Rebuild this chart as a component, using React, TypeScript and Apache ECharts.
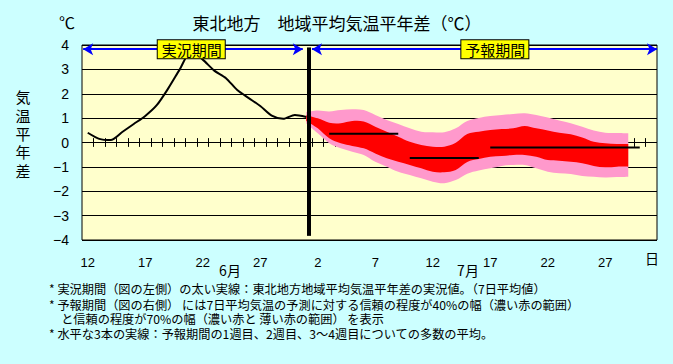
import React, { useEffect, useRef } from 'react';
import * as echarts from 'echarts';

// x positions are day indices: 0 = Jun 12 ... 49 = Jul 31
const xLabelIndex = [0, 5, 10, 15, 20, 25, 30, 35, 40, 45];
const xLabelText = ['12', '17', '22', '27', '2', '7', '12', '17', '22', '27'];

// observed 7-day mean anomaly (Jun 12 .. Jul 1)
const obsIndex = [0, 1, 2, 3, 4, 5, 6, 7, 8, 9, 10, 11, 12, 13, 14, 15, 16, 17, 18, 19];
const obsValue = [0.40, 0.15, 0.10, 0.43, 0.76, 1.09, 1.53, 2.22, 3.0, 3.75, 3.4, 2.95, 2.65, 2.15, 1.82, 1.5, 1.1, 0.97, 1.13, 1.05];

// forecast bands (Jul 1 .. Jul 28)
const fcIndex = [19, 20, 21, 22, 23, 24, 25, 26, 27, 28, 29, 30, 31, 32, 33, 34, 35, 36, 37, 38, 39, 40, 41, 42, 43, 44, 45, 46, 47];
const pinkTop = [1.25, 1.31, 1.27, 1.33, 1.36, 1.33, 1.13, 0.92, 0.76, 0.58, 0.44, 0.42, 0.42, 0.58, 0.88, 1.01, 1.09, 1.13, 1.17, 1.20, 1.13, 1.03, 0.90, 0.79, 0.65, 0.49, 0.40, 0.39, 0.38];
const redTop = [1.12, 0.99, 0.81, 0.79, 0.88, 0.86, 0.65, 0.44, 0.24, 0.03, -0.10, -0.17, -0.17, -0.01, 0.35, 0.44, 0.51, 0.55, 0.58, 0.68, 0.58, 0.49, 0.40, 0.34, 0.21, 0.03, -0.03, -0.06, -0.06];
const redBottom = [0.88, 0.58, 0.17, -0.03, -0.14, -0.24, -0.45, -0.65, -0.79, -0.92, -1.06, -1.20, -1.22, -1.13, -0.80, -0.68, -0.58, -0.55, -0.51, -0.51, -0.58, -0.72, -0.75, -0.79, -0.85, -0.96, -1.02, -0.99, -0.99];
const pinkBottom = [0.78, 0.38, -0.03, -0.24, -0.38, -0.51, -0.79, -0.99, -1.20, -1.33, -1.47, -1.61, -1.67, -1.54, -1.28, -1.15, -1.06, -0.96, -0.92, -0.92, -1.06, -1.20, -1.26, -1.29, -1.37, -1.40, -1.44, -1.42, -1.40];

// weekly means (week 1, week 2, weeks 3-4)
const meanStart = [21, 28, 35];
const meanEnd = [27, 34, 48];
const meanValue = [0.36, -0.64, -0.21];

// small day ticks on the zero line (between days)
const zeroTickPos = Array.from({ length: 49 }, (_, i) => i + 0.5);

// period annotations
const periodY = 3.83;
const obsPeriod = [-0.4, 18.7];
const fcPeriod = [19.5, 49.5];
const periodLabelX = [9.0, 35.4];
const periodLabelText = ['実況期間', '予報期間'];
const divider = { x: 19.2, top: 3.9, bottom: -3.83 };

const footnotes = [
  '* 実況期間（図の左側）の太い実線：東北地方地域平均気温平年差の実況値。（7日平均値）',
  '* 予報期間（図の右側） には7日平均気温の予測に対する信頼の程度が40%の幅（濃い赤の範囲）',
  '　と信頼の程度が70%の幅（濃い赤と 薄い赤の範囲） を表示',
  '* 水平な3本の実線：予報期間の1週目、2週目、3〜4週目についての多数の平均。',
];
const footnoteY = [289, 304.5, 318.5, 334];

const JP = "'Noto Sans CJK JP', sans-serif";
const NUM = "'Liberation Sans', 'Noto Sans CJK JP', sans-serif";

// Catmull-Rom curve through pixel points -> SVG path commands (rendering only)
function curvePath(pts: number[][], moveFirst: boolean): string {
  let d = (moveFirst ? 'M' : 'L') + pts[0][0].toFixed(2) + ' ' + pts[0][1].toFixed(2);
  const n = pts.length;
  for (let i = 0; i < n - 1; i++) {
    const p0 = pts[Math.max(0, i - 1)];
    const p1 = pts[i];
    const p2 = pts[i + 1];
    const p3 = pts[Math.min(n - 1, i + 2)];
    const c1x = p1[0] + (p2[0] - p0[0]) / 6;
    const c1y = p1[1] + (p2[1] - p0[1]) / 6;
    const c2x = p2[0] - (p3[0] - p1[0]) / 6;
    const c2y = p2[1] - (p3[1] - p1[1]) / 6;
    d += ` C${c1x.toFixed(2)} ${c1y.toFixed(2)} ${c2x.toFixed(2)} ${c2y.toFixed(2)} ${p2[0].toFixed(2)} ${p2[1].toFixed(2)}`;
  }
  return d;
}

function bandSeries(name: string, upper: number[], lower: number[], color: string, z: number) {
  return {
    type: 'custom',
    name,
    z,
    silent: true,
    clip: true,
    encode: { x: 0, y: [1, 2] },
    data: fcIndex.map((x, i) => [x, upper[i], lower[i]]),
    renderItem: (params: any, api: any) => {
      if (params.dataIndex !== 0) return null;
      const top = fcIndex.map((x, i) => api.coord([x, upper[i]]));
      const bot = fcIndex.map((x, i) => api.coord([x, lower[i]])).reverse();
      const d = curvePath(top, true) + ' ' + curvePath(bot, false) + ' Z';
      return {
        type: 'path',
        shape: { pathData: d },
        style: { fill: color, stroke: 'none' },
      };
    },
  };
}

export default function App() {
  const ref = useRef<HTMLDivElement>(null);

  useEffect(() => {
    document.body.style.margin = '0';
    const chart = echarts.init(ref.current!, null, { renderer: 'svg' });

    const option: any = {
      animation: false,
      backgroundColor: '#CCFFFF',
      grid: {
        left: 82, top: 45, width: 575, height: 195,
        show: true, backgroundColor: '#FFFFCC', borderColor: '#000', borderWidth: 1,
      },
      xAxis: {
        type: 'value', min: -0.5, max: 49.5,
        axisLine: { show: false }, axisTick: { show: false }, splitLine: { show: false },
        axisLabel: {
          customValues: xLabelIndex,
          formatter: (v: number) => {
            const k = xLabelIndex.indexOf(v);
            return k >= 0 ? xLabelText[k] : '';
          },
          fontSize: 13, color: '#000', margin: 16, fontFamily: NUM,
        },
      },
      yAxis: {
        type: 'value', min: -4, max: 4, interval: 1,
        axisLine: { show: false }, axisTick: { show: false },
        splitLine: { lineStyle: { color: '#000', width: 1 } },
        axisLabel: {
          fontSize: 14, color: '#000', margin: 13, fontFamily: NUM,
          formatter: (v: number) => (v < 0 ? '−' + Math.abs(v) : String(v)),
        },
      },
      series: [
        {
          type: 'line', name: 'ticks', z: 1, data: [], symbol: 'none',
          markLine: {
            z: 1,
            silent: true, symbol: 'none', animation: false,
            label: { show: false },
            lineStyle: { color: '#000', width: 1, type: 'solid' },
            data: zeroTickPos.map((x) => [{ coord: [x, 0.18] }, { coord: [x, -0.18] }]),
          },
        },
        bandSeries('70%', pinkTop, pinkBottom, '#FF99CC', 2),
        bandSeries('40%', redTop, redBottom, '#FF0000', 3),
        {
          type: 'line', name: '実況', z: 4,
          data: obsIndex.map((x, i) => [x, obsValue[i]]),
          symbol: 'none', smooth: 0.25,
          lineStyle: { color: '#000', width: 2 },
          markLine: {
            z: 6,
            silent: true, animation: false,
            label: { show: false },
            symbolSize: [9, 10],
            data: [
              [
                { coord: [obsPeriod[0], periodY], symbol: 'arrow', lineStyle: { color: '#0000FF', width: 2, type: 'solid' } },
                { coord: [obsPeriod[1], periodY], symbol: 'arrow' },
              ],
              [
                { coord: [fcPeriod[0], periodY], symbol: 'arrow', lineStyle: { color: '#0000FF', width: 2, type: 'solid' } },
                { coord: [fcPeriod[1], periodY], symbol: 'arrow' },
              ],
              [
                { coord: [divider.x, divider.top], symbol: 'none', lineStyle: { color: '#000', width: 4, type: 'solid' } },
                { coord: [divider.x, divider.bottom], symbol: 'none' },
              ],
            ],
          },
          markPoint: {
            z: 7,
            silent: true, animation: false,
            symbol: 'rect', symbolSize: [1, 1],
            itemStyle: { color: 'transparent' },
            label: {
              show: true, position: 'inside', color: '#000', fontSize: 15, fontFamily: JP,
              backgroundColor: '#FFFF00', borderColor: '#000', borderWidth: 1,
              padding: [2, 3, 1, 4],
              formatter: (p: any) => p.name,
            },
            data: periodLabelX.map((x, i) => ({ name: periodLabelText[i], coord: [x, periodY] })),
          },
        },
        ...meanValue.map((v, i) => ({
          type: 'line', name: '平均' + (i + 1), z: 5, symbol: 'none',
          data: [[meanStart[i], v], [meanEnd[i], v]],
          lineStyle: { color: '#000', width: 2 },
        })),
      ],
      graphic: [
        { type: 'text', x: 67, y: 22, style: { text: '℃', font: `16px ${JP}`, fill: '#000', textAlign: 'center', textVerticalAlign: 'middle' } },
        { type: 'text', x: 337, y: 22.5, style: { text: '東北地方　地域平均気温平年差（℃）', font: `17px ${JP}`, fill: '#000', textAlign: 'center', textVerticalAlign: 'middle' } },
        { type: 'text', x: 23, y: 133.5, style: { text: '気\n温\n平\n年\n差', font: `15px ${JP}`, lineHeight: 18.3, fill: '#000', textAlign: 'center', textVerticalAlign: 'middle' } },
        { type: 'text', x: 230, y: 270, style: { text: '6月', font: `14px ${JP}`, fill: '#000', textAlign: 'center', textVerticalAlign: 'middle' } },
        { type: 'text', x: 468, y: 270, style: { text: '7月', font: `14px ${JP}`, fill: '#000', textAlign: 'center', textVerticalAlign: 'middle' } },
        { type: 'text', x: 652, y: 257.5, style: { text: '日', font: `14px ${JP}`, fill: '#000', textAlign: 'center', textVerticalAlign: 'middle' } },
        ...footnotes.map((t, i) => ({
          type: 'text', x: 49, y: footnoteY[i],
          style: { text: t, font: `12.2px ${JP}`, lineHeight: 13, fill: '#000', textAlign: 'left', textVerticalAlign: 'middle' },
        })),
      ],
    };

    chart.setOption(option);
    return () => chart.dispose();
  }, []);

  return <div ref={ref} style={{ width: 673, height: 364 }} />;
}
